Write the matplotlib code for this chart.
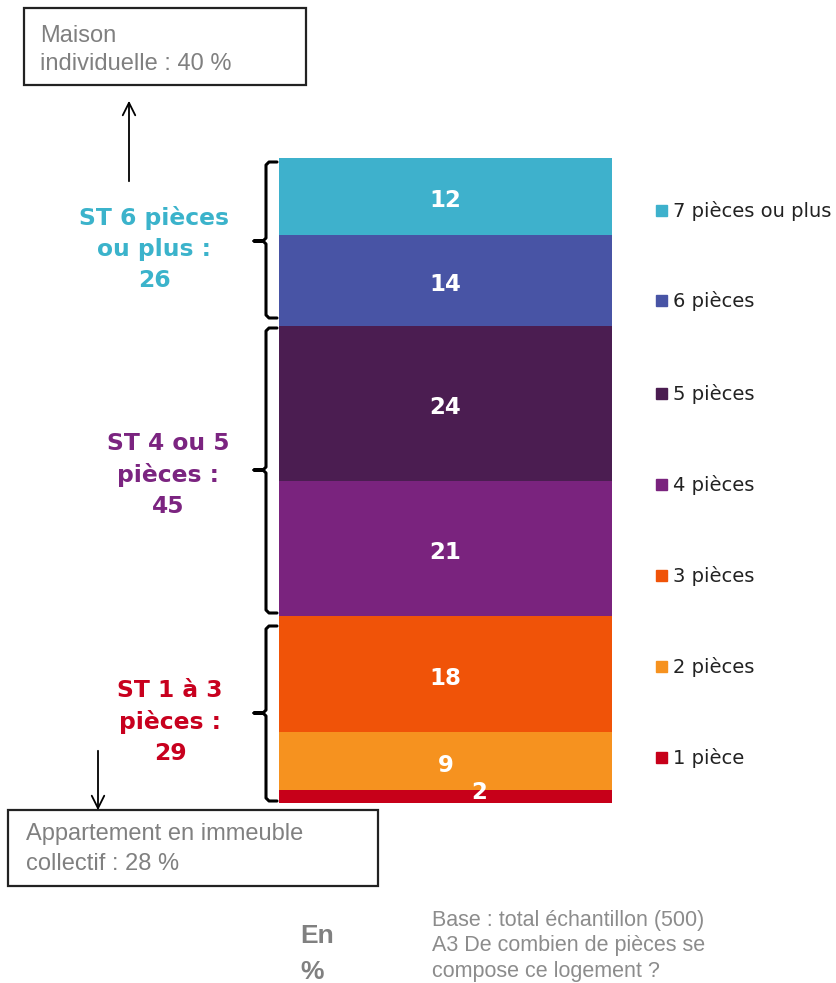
import matplotlib.pyplot as plt
from matplotlib.patches import Rectangle
from matplotlib.lines import Line2D

# ------ données

categories = ["1 pièce", "2 pièces", "3 pièces", "4 pièces", "5 pièces", "6 pièces", "7 pièces ou plus"]
valeurs = [2, 9, 18, 21, 24, 14, 12]
couleurs = ["#C70019", "#F6921F", "#F05308", "#7A237E", "#4B1D51", "#4854A5", "#3EB1CC"]

groupes = ["ST 1 à 3\npièces :\n29", "ST 4 ou 5\npièces :\n45", "ST 6 pièces\nou plus :\n26"]
groupes_couleurs = ["#C8001E", "#7B2480", "#3BB3CB"]

# ------ figure

W, H = 836, 983
fig = plt.figure(figsize=(W / 100, H / 100), dpi=100)

# axe du graphique (barre empilée)
x0, x1, y_top, y_bot = 279, 612, 158, 803
ax = fig.add_axes([x0 / W, (H - y_bot) / H, (x1 - x0) / W, (y_bot - y_top) / H])
ax.set_xlim(0, 1)
ax.set_ylim(0, sum(valeurs))
ax.axis("off")

bas = 0
for i, (v, c) in enumerate(zip(valeurs, couleurs)):
    ax.bar(0.5, v, width=1, bottom=bas, color=c, edgecolor="none")
    xt, yt, dy = 0.5, bas + v / 2, -3
    if i == 0:
        # petit segment : étiquette décalée comme dans l'original
        xt, yt, dy = 0.6, bas + v / 2 + 0.6, 0
    ax.annotate(str(v), (xt, yt), xytext=(0, dy), textcoords="offset points",
                color="white", fontsize=16.5, fontweight="bold", ha="center", va="center")
    bas += v

# calque en pixels pour les annotations
ov = fig.add_axes([0, 0, 1, 1], zorder=5)
ov.set_xlim(0, W)
ov.set_ylim(H, 0)
ov.axis("off")
ov.patch.set_alpha(0)

# légende
leg_y = [758, 667, 576, 485, 394, 301, 211]
for lab, c, y in zip(categories, couleurs, leg_y):
    ov.add_patch(Rectangle((656, y - 6), 11, 11, color=c))
    ov.text(673, y, lab, fontsize=14, color="#222222", va="center", ha="left",
            family="DejaVu Sans")


def accolade(yt, yb, ym, xr=277, xv=266, xtip=254):
    pts = [(xr, yt), (xv + 3, yt), (xv, yt + 3), (xv, ym - 3), (xv - 3, ym), (xtip, ym),
           (xv - 3, ym), (xv, ym + 3), (xv, yb - 3), (xv + 3, yb), (xr, yb)]
    ov.add_line(Line2D([p[0] for p in pts], [p[1] for p in pts], color="black",
                       lw=2.2, solid_joinstyle="round", solid_capstyle="round"))


accolade(626, 801, 713)
accolade(328, 613, 470)
accolade(162, 318, 241)

grp_pos = [(170, 722), (168, 475), (154, 249)]
for txt, c, (x, y) in zip(groupes, groupes_couleurs, grp_pos):
    ov.text(x, y, txt, color=c, fontsize=16.8, fontweight="bold", ha="center",
            va="center", linespacing=1.42)

# encadrés
gris = "#808080"
ov.add_patch(Rectangle((24, 8), 282, 77, fill=False, edgecolor="#222222", lw=1.6))
ov.text(40, 50, "Maison\nindividuelle : 40 %", color=gris, fontsize=17,
        family="Liberation Sans", va="center", ha="left", linespacing=1.35)
ov.annotate("", xy=(129, 98), xytext=(129, 184),
            arrowprops=dict(arrowstyle="->,head_length=0.9,head_width=0.45", lw=1.3, color="black"))

ov.add_patch(Rectangle((8, 810), 370, 76, fill=False, edgecolor="#222222", lw=1.6))
ov.text(26, 849, "Appartement en immeuble\ncollectif : 28 %", color=gris, fontsize=17,
        family="Liberation Sans", va="center", ha="left", linespacing=1.45)
ov.annotate("", xy=(98, 813), xytext=(98, 748),
            arrowprops=dict(arrowstyle="->,head_length=0.9,head_width=0.45", lw=1.3, color="black"))

# notes
ov.text(300, 954, "En\n%", color=gris, fontsize=19, fontweight="bold",
        family="Liberation Sans", va="center", ha="left", linespacing=1.6)
ov.text(432, 946, "Base : total échantillon (500)\nA3 De combien de pièces se\ncompose ce logement ?",
        color="#8C8C8C", fontsize=15.5, family="Liberation Sans", va="center", ha="left",
        linespacing=1.28)

fig.savefig("out.png", dpi=100)
